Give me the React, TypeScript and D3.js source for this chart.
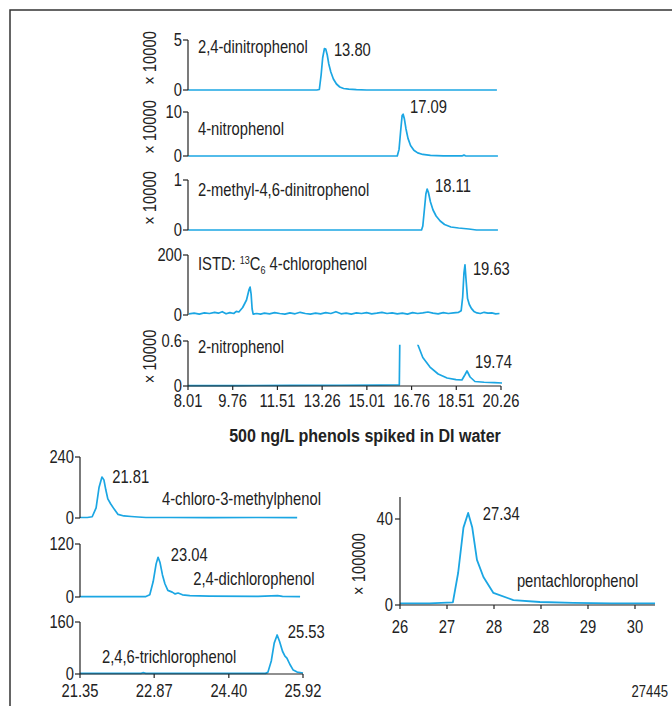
import React from 'react';
import * as d3 from 'd3';

// chromatogram traces: [retention time (min), response in axis units]
const dinitro24: [number, number][] = [
  [8.01, 0], [13.05, 0], [13.15, 0.05], [13.22, 1.5], [13.28, 3.2], [13.35, 4.15], [13.4, 4.1],
  [13.46, 3.5], [13.52, 2.6], [13.6, 1.8], [13.7, 1.1], [13.82, 0.6], [13.95, 0.3], [14.1, 0.15],
  [14.3, 0.08], [14.6, 0.03], [15.0, 0], [20.1, 0],
];
const nitro4: [number, number][] = [
  [8.01, 0], [16.2, 0], [16.27, 1.5], [16.33, 5.5], [16.39, 9.2], [16.43, 9.5], [16.48, 8.4],
  [16.54, 6.2], [16.62, 4.0], [16.72, 2.4], [16.85, 1.3], [17.0, 0.7], [17.2, 0.35], [17.5, 0.15],
  [18.0, 0.05], [18.75, 0.05], [18.81, 0.2], [18.87, 0.05], [20.14, 0],
];
const methylDinitro: [number, number][] = [
  [8.01, 0], [17.15, 0], [17.2, 0.08], [17.26, 0.4], [17.32, 0.72], [17.37, 0.82], [17.42, 0.75],
  [17.5, 0.56], [17.6, 0.4], [17.72, 0.28], [17.88, 0.18], [18.05, 0.11], [18.3, 0.06], [18.6, 0.04],
  [19.0, 0.02], [19.3, 0], [20.14, 0],
];
const istd: [number, number][] = [
  [8.05, 4], [8.25, 6], [8.45, 3], [8.65, 7], [8.85, 5], [9.05, 9], [9.2, 6], [9.35, 11], [9.5, 4],
  [9.65, 8], [9.8, 5], [9.9, 12], [10.0, 10], [10.15, 25], [10.3, 50], [10.4, 85], [10.44, 93],
  [10.48, 70], [10.52, 20], [10.56, 3], [10.7, 5], [10.85, 3], [11.0, 6], [11.2, 4], [11.4, 8],
  [11.6, 5], [11.8, 3], [12.0, 7], [12.2, 4], [12.4, 9], [12.6, 5], [12.8, 3], [13.0, 6], [13.2, 4],
  [13.4, 8], [13.6, 5], [13.8, 11], [14.0, 4], [14.2, 6], [14.4, 3], [14.6, 7], [14.8, 5], [15.0, 8],
  [15.2, 4], [15.4, 6], [15.6, 9], [15.8, 5], [16.0, 7], [16.2, 4], [16.4, 6], [16.6, 3], [16.8, 8],
  [17.0, 5], [17.2, 7], [17.4, 10], [17.6, 6], [17.8, 4], [18.0, 8], [18.2, 5], [18.4, 7], [18.6, 9],
  [18.7, 14], [18.76, 60], [18.81, 140], [18.85, 167], [18.89, 120], [18.95, 55], [19.02, 35],
  [19.1, 22], [19.2, 12], [19.32, 7], [19.45, 5], [19.6, 9], [19.75, 6], [19.9, 7], [20.05, 4], [20.2, 5],
];
const nitro2: [number, number][] = [
  [8.01, 0.005], [10.0, 0.006], [12.0, 0.008], [14.0, 0.01], [15.5, 0.012], [16.28, 0.015],
  [16.31, 0.9], [16.34, 1.5], [16.6, 1.2], [16.9, 0.7], [17.01, 0.547], [17.2, 0.38], [17.48, 0.253],
  [17.8, 0.16], [18.15, 0.107], [18.5, 0.085], [18.73, 0.08], [18.85, 0.15], [18.93, 0.2],
  [19.05, 0.12], [19.24, 0.06], [19.6, 0.05], [20.0, 0.045], [20.3, 0.04],
];
const chloroMethyl: [number, number][] = [
  [21.35, 2], [21.5, 2], [21.6, 5], [21.68, 40], [21.74, 120], [21.8, 161], [21.84, 150],
  [21.88, 110], [21.92, 75], [21.98, 55], [22.05, 35], [22.13, 14], [22.25, 8], [22.4, 6],
  [22.54, 4], [22.7, 2], [23.2, 2], [24.0, 1.5], [25.0, 2], [25.8, 1.5],
];
const dichloro24: [number, number][] = [
  [21.35, 1], [22.7, 1], [22.78, 5], [22.85, 35], [22.91, 75], [22.95, 90], [22.99, 78],
  [23.04, 50], [23.09, 30], [23.15, 15], [23.24, 11], [23.3, 7], [23.36, 9], [23.45, 5],
  [23.6, 3], [24.0, 2], [25.0, 1.5], [25.4, 3], [25.5, 1.5], [25.86, 1],
];
const trichloro246: [number, number][] = [
  [21.35, 2], [22.0, 2], [22.6, 2], [22.64, 4], [22.7, 2], [23.5, 2], [24.5, 2], [25.15, 2],
  [25.2, 5], [25.27, 40], [25.33, 95], [25.39, 120], [25.44, 100], [25.5, 70], [25.55, 55],
  [25.59, 49], [25.65, 30], [25.72, 12], [25.8, 6], [25.92, 3],
];
const pcp: [number, number][] = [
  [26.0, 0.8], [26.5, 0.8], [26.9, 1.2], [26.99, 15], [27.08, 36], [27.16, 42.8], [27.23, 36],
  [27.31, 21], [27.42, 13], [27.59, 5.6], [27.93, 2.3], [28.38, 1.4], [28.95, 1.0], [29.6, 0.8],
  [30.34, 0.8],
];

const topTicks = [8.01, 9.76, 11.51, 13.26, 15.01, 16.76, 18.51, 20.26];
const bottomTicks = [21.35, 22.87, 24.4, 25.92];
const pcpTicks = [26, 26.8, 27.6, 28.4, 29.2, 30];
const pcpTickLabels = ['26', '27', '28', '28', '29', '30'];

const BLUE = '#1ba6e3';
const INK = '#222';
const FONT = "'Liberation Sans', Arial, sans-serif";
const FS = 18;
const NARROW = 0.82; // condensed look of the original type

// condensed text: drawn in Liberation Sans and squeezed horizontally
function T({ x, y, children, anchor = 'start', bold = false, size = FS, rotate = false, dy, sx = NARROW }: {
  x: number; y: number; children: React.ReactNode; anchor?: string; bold?: boolean; size?: number; rotate?: boolean; dy?: string; sx?: number;
}) {
  return (
    <text
      transform={`translate(${x},${y})${rotate ? ' rotate(-90)' : ''} scale(${sx},1)`}
      textAnchor={anchor}
      dy={dy}
      style={{ fontFamily: FONT, fontSize: size, fill: INK, fontWeight: bold ? 'bold' : 'normal' }}
    >
      {children}
    </text>
  );
}

type Panel = {
  data: [number, number][];
  yMax: number;
  yTop: number;
  yBase: number;
  tickLabel: string;
  clipMax?: number;
  mult?: string;
  name: React.ReactNode;
  nameAt: [number, number];
  rt?: string;
  rtAt?: [number, number];
};

const istdName = (
  <>
    ISTD:{' '}
    <tspan fontSize={11} dy={-6}>13</tspan>
    <tspan dy={6}>C</tspan>
    <tspan fontSize={11} dy={4}>6</tspan>
    <tspan dy={-4}> 4-chlorophenol</tspan>
  </>
);

const topPanels: Panel[] = [
  { data: dinitro24, yMax: 5, yTop: 40, yBase: 90, tickLabel: '5', mult: '× 10000', name: '2,4-dinitrophenol', nameAt: [8.4, 3.7], rt: '13.80', rtAt: [13.72, 3.4] },
  { data: nitro4, yMax: 10, yTop: 112, yBase: 156, tickLabel: '10', mult: '× 10000', name: '4-nitrophenol', nameAt: [8.4, 4.77], rt: '17.09', rtAt: [16.7, 9.77] },
  { data: methylDinitro, yMax: 1, yTop: 180, yBase: 230, tickLabel: '1', mult: '× 10000', name: '2-methyl-4,6-dinitrophenol', nameAt: [8.4, 0.68], rt: '18.11', rtAt: [17.68, 0.76] },
  { data: istd, yMax: 200, yTop: 255, yBase: 315, tickLabel: '200', name: istdName, nameAt: [8.4, 150], rt: '19.63', rtAt: [19.16, 133] },
  { data: nitro2, yMax: 0.6, yTop: 341, yBase: 386, tickLabel: '0.6', clipMax: 0.55, mult: '× 10000', name: '2-nitrophenol', nameAt: [8.4, 0.44], rt: '19.74', rtAt: [19.24, 0.24] },
];

const bottomPanels: Panel[] = [
  { data: chloroMethyl, yMax: 240, yTop: 457, yBase: 518, tickLabel: '240', name: '4-chloro-3-methylphenol', nameAt: [23.03, 51], rt: '21.81', rtAt: [22.01, 138] },
  { data: dichloro24, yMax: 120, yTop: 544, yBase: 597, tickLabel: '120', name: '2,4-dichlorophenol', nameAt: [23.67, 27], rt: '23.04', rtAt: [23.21, 81.5] },
  { data: trichloro246, yMax: 160, yTop: 622, yBase: 674, tickLabel: '160', name: '2,4,6-trichlorophenol', nameAt: [21.8, 34], rt: '25.53', rtAt: [25.61, 111] },
];

function Trace({ p, x, axisX, multX, id }: { p: Panel; x: d3.ScaleLinear<number, number>; axisX: number; multX: number; id: string }) {
  const y = d3.scaleLinear().domain([0, p.yMax]).range([p.yBase, p.yTop]);
  const line = d3.line<[number, number]>().x(d => x(d[0])).y(d => y(d[1]));
  const clipTop = p.clipMax !== undefined ? y(p.clipMax) : 0;
  return (
    <g>
      <clipPath id={id}>
        <rect x={axisX} y={clipTop} width={672} height={p.yBase - clipTop + 3} />
      </clipPath>
      <path d={line(p.data) || ''} fill="none" stroke={BLUE} strokeWidth={1.7} strokeLinejoin="round" clipPath={`url(#${id})`} />
      <line x1={axisX} x2={axisX} y1={y(0)} y2={y(p.yMax)} stroke={INK} strokeWidth={1.2} />
      {[0, p.yMax].map(t => (
        <g key={t}>
          <line x1={axisX - 5} x2={axisX} y1={y(t)} y2={y(t)} stroke={INK} strokeWidth={1.2} />
          <T x={axisX - 6} y={y(t)} dy="0.36em" anchor="end">{t === 0 ? '0' : p.tickLabel}</T>
        </g>
      ))}
      {p.mult && (
        <T x={multX} y={(p.yBase + p.yTop) / 2 - 7} dy="0.36em" anchor="middle" rotate>{p.mult}</T>
      )}
      <T x={x(p.nameAt[0])} y={y(p.nameAt[1])}>{p.name}</T>
      {p.rt && p.rtAt && <T x={x(p.rtAt[0])} y={y(p.rtAt[1])}>{p.rt}</T>}
    </g>
  );
}

function XAxis({ x, y, ticks, labels, fmt, start, end, gap }: { x: d3.ScaleLinear<number, number>; y: number; ticks: number[]; labels?: string[]; fmt: (n: number) => string; start: number; end: number; gap: number }) {
  return (
    <g>
      <line x1={start} x2={end} y1={y} y2={y} stroke={INK} strokeWidth={1.2} />
      {ticks.map((t, i) => (
        <g key={i}>
          <line x1={x(t)} x2={x(t)} y1={y} y2={y + 4} stroke={INK} strokeWidth={1.2} />
          <T x={x(t)} y={y + gap} anchor="middle">{labels ? labels[i] : fmt(t)}</T>
        </g>
      ))}
    </g>
  );
}

export default function App() {
  const topX = d3.scaleLinear().domain([8.01, 20.26]).range([188, 501]);
  const botX = d3.scaleLinear().domain([21.35, 25.92]).range([80, 303]);
  const pcpX = d3.scaleLinear().domain([26, 30]).range([400, 635]);
  const pcpY = d3.scaleLinear().domain([0, 40]).range([605, 519]);
  const pcpLine = d3.line<[number, number]>().x(d => pcpX(d[0])).y(d => pcpY(d[1]));
  const f2 = d3.format('.2f');

  return (
    <svg width={672} height={706} style={{ position: 'absolute', left: 0, top: 0, background: '#fff' }}>
      <rect width={672} height={706} fill="#fff" />
      <path d="M10,706 V10 H672" fill="none" stroke="#333" strokeWidth={1.5} />

      {topPanels.map((p, i) => (
        <Trace key={i} p={p} x={topX} axisX={188} multX={150} id={`ct${i}`} />
      ))}
      <XAxis x={topX} y={386} ticks={topTicks} fmt={f2} start={188} end={501} gap={21} />

      <T x={365} y={442} anchor="middle" bold size={19} sx={0.845}>500 ng/L phenols spiked in DI water</T>

      {bottomPanels.map((p, i) => (
        <Trace key={i} p={p} x={botX} axisX={80} multX={40} id={`cb${i}`} />
      ))}
      <XAxis x={botX} y={674} ticks={bottomTicks} fmt={f2} start={80} end={303} gap={23} />

      {/* pentachlorophenol */}
      <path d={pcpLine(pcp) || ''} fill="none" stroke={BLUE} strokeWidth={1.8} strokeLinejoin="round" />
      <line x1={400} x2={400} y1={pcpY(0)} y2={pcpY(50.2)} stroke={INK} strokeWidth={1.2} />
      {[0, 40].map(t => (
        <g key={t}>
          <line x1={395} x2={400} y1={pcpY(t)} y2={pcpY(t)} stroke={INK} strokeWidth={1.2} />
          <T x={393} y={pcpY(t)} dy="0.36em" anchor="end">{String(t)}</T>
        </g>
      ))}
      <T x={359} y={564} dy="0.36em" anchor="middle" rotate>× 100000</T>
      <XAxis x={pcpX} y={605} ticks={pcpTicks} labels={pcpTickLabels} fmt={String} start={400} end={655} gap={28} />
      <T x={pcpX(27.41)} y={pcpY(39.5)}>27.34</T>
      <T x={pcpX(27.99)} y={pcpY(8.4)}>pentachlorophenol</T>

      <T x={668} y={697} anchor="end" size={16}>27445</T>
    </svg>
  );
}
